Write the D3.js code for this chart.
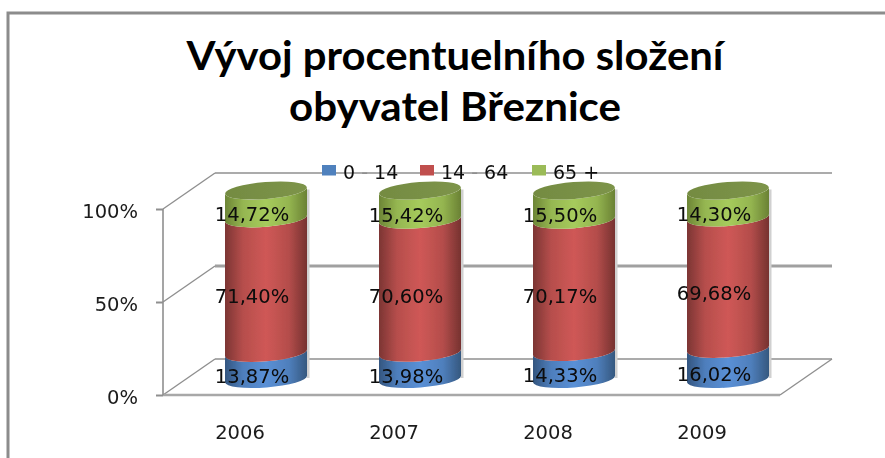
<!DOCTYPE html>
<html><head><meta charset="utf-8">
<script src="https://cdn.jsdelivr.net/npm/d3@7"></script>
<style>html,body{margin:0;padding:0;background:#fff}svg{display:block}text{font-family:"DejaVu Sans",sans-serif}</style>
</head><body><svg id="c" width="885" height="458"></svg>
<script>
const years=["2006","2007","2008","2009"];
const seriesNames=["0 - 14","14 - 64","65 +"];
const young=[13.87,13.98,14.33,16.02];
const middle=[71.40,70.60,70.17,69.68];
const old=[14.72,15.42,15.50,14.30];
const axisTicks=[0,50,100];
const titleLines=["Vývoj procentuelního složení","obyvatel Březnice"];
const seriesColors=["#4F81BD","#C0504D","#9BBB59"];
const gradStops=[["#33557f","#5a90d6","#35587f"],["#7c3533","#cf5856","#763230"],["#6d8536","#a6cb5c","#6a8134"]];

const svg=d3.select("#c");
const defs=svg.append("defs");
defs.append("filter").attr("id","soft").append("feGaussianBlur").attr("stdDeviation",0.45);
gradStops.forEach((g,i)=>{
  const lg=defs.append("linearGradient").attr("id","g"+i);
  lg.append("stop").attr("offset","0%").attr("stop-color",g[0]);
  lg.append("stop").attr("offset","22%").attr("stop-color",d3.interpolateRgb(g[0],g[1])(.7));
  lg.append("stop").attr("offset","50%").attr("stop-color",g[1]);
  lg.append("stop").attr("offset","78%").attr("stop-color",d3.interpolateRgb(g[2],g[1])(.7));
  lg.append("stop").attr("offset","100%").attr("stop-color",g[2]);
});
const topG=defs.append("linearGradient").attr("id","gt");
topG.append("stop").attr("offset","0%").attr("stop-color","#748b42");
topG.append("stop").attr("offset","100%").attr("stop-color","#7d9449");

// frame
const gray="#8f8f8f";
svg.append("path").attr("d","M8,458V13H885").attr("fill","none").attr("stroke","#8c8c8c").attr("stroke-width",3);

const root=svg.append("g").attr("filter","url(#soft)");
const depthX=52, depthY=-36;
const yWall=d3.scaleLinear().domain([0,100]).range([395,209]);
const xWall=d3.scaleLinear().domain([0,1]).range([163,780]);
const yCyl=d3.scaleLinear().domain([0,100]).range([379,190.5]);
const xBand=d3.scaleBand().domain(years).range([189,805]);
const rx=41, ry=8.5, tilt=-4.6, tan=Math.tan(tilt*Math.PI/180);

// walls
axisTicks.forEach(t=>{
  const y=yWall(t);
  root.append("line").attr("x1",xWall(0)+depthX).attr("x2",xWall(1)+depthX).attr("y1",y+depthY).attr("y2",y+depthY)
    .attr("stroke",t===50?"#a0a0a0":gray).attr("stroke-width",t===50?3:1.4);
  root.append("line").attr("x1",xWall(0)).attr("x2",xWall(0)+depthX).attr("y1",y).attr("y2",y+depthY)
    .attr("stroke",gray).attr("stroke-width",1.4);
});
root.append("line").attr("x1",xWall(0)).attr("x2",xWall(1)).attr("y1",yWall(0)).attr("y2",yWall(0)).attr("stroke","#a8a8a8").attr("stroke-width",2.5);
root.append("line").attr("x1",xWall(1)).attr("x2",xWall(1)+depthX).attr("y1",yWall(0)).attr("y2",yWall(0)+depthY).attr("stroke",gray).attr("stroke-width",1.4);

// y axis
const ay=root.append("g").attr("transform",`translate(${xWall(0)},0)`)
  .call(d3.axisLeft(yWall).tickValues(axisTicks).tickFormat(d=>d+"%").tickSize(7).tickPadding(18));
ay.select(".domain").attr("stroke",gray).attr("stroke-width",1.6).attr("d",`M0,${yWall(100)}V${yWall(0)}`);
ay.selectAll(".tick line").attr("stroke",gray).attr("stroke-width",2);
ay.selectAll(".tick text").attr("fill","#1a1a1a").style("font-size","19.5px").attr("dy","8.5").attr("font-family",null);

// x axis
const ax=root.append("g").attr("transform",`translate(-26,${yWall(0)})`)
  .call(d3.axisBottom(xBand).tickSize(0).tickPadding(30));
ax.select(".domain").remove();
ax.selectAll(".tick text").attr("fill","#1a1a1a").style("font-size","19.5px").attr("dy",".72em").attr("font-family",null);

// stacked cylinders
const rows=years.map((y,i)=>({year:y,a:young[i],b:middle[i],c:old[i]}));
const stacked=d3.stack().keys(["a","b","c"])(rows);
const cx=d=>xBand(d.data.year)+xBand.bandwidth()/2;
function segPath(d){
  const c=cx(d), y0=yCyl(d[0]), y1=yCyl(d[1]), dy=rx*tan;
  return `M${c-rx},${y0-dy}A${rx},${ry} ${tilt} 0 0 ${c+rx},${y0+dy}L${c+rx},${y1+dy}A${rx},${ry} ${tilt} 0 1 ${c-rx},${y1-dy}Z`;
}
const lastTop=stacked[2];
// soft shadow on the right of each cylinder
root.selectAll("rect.sh").data(lastTop).join("rect").attr("class","sh")
  .attr("x",d=>cx(d)+rx).attr("y",d=>yCyl(d[1])-1).attr("width",2.5)
  .attr("height",d=>yCyl(0)-yCyl(d[1])).attr("fill","#d0d0d0");
stacked.forEach((s,i)=>{
  root.append("g").selectAll("path").data(s).join("path").attr("d",segPath).attr("fill",`url(#g${i})`);
});
root.append("g").selectAll("ellipse").data(lastTop).join("ellipse")
  .attr("cx",0).attr("cy",0).attr("rx",rx).attr("ry",ry).attr("fill","url(#gt)")
  .attr("transform",d=>`translate(${cx(d)},${yCyl(d[1])}) rotate(${tilt})`);

// data labels
const fmt=v=>v.toFixed(2).replace(".",",")+"%";
stacked.forEach(s=>{
  root.append("g").selectAll("text").data(s).join("text")
    .attr("x",d=>cx(d)-14).attr("y",d=>yCyl((d[0]+d[1])/2)+17)
    .attr("text-anchor","middle").attr("fill","#0a0a0a").style("font-size","19.5px")
    .text(d=>fmt(d.data[s.key]));
});

// legend: the dash sits on the top gridline and reads in its grey
const legendX=d3.scaleOrdinal().domain(seriesNames).range([322,420,532]);
const leg=root.append("g").selectAll("g").data(seriesNames).join("g").attr("transform",d=>`translate(${legendX(d)},165)`);
leg.append("rect").attr("width",14).attr("height",10.5).attr("fill",(d,i)=>seriesColors[i]);
const legText=leg.append("text").attr("x",21).attr("y",14).attr("fill","#111").style("font-size","19px").attr("xml:space","preserve");
legText.each(function(d){
  const t=d3.select(this);
  d.split(/(-)/).forEach(p=>{ if(p) t.append("tspan").attr("fill",p==="-"?gray:null).text(p); });
});

// title
const titleWidths=[537,332];
svg.append("g").selectAll("text").data(titleLines).join("text")
  .attr("x",455).attr("y",(d,i)=>70+i*51).attr("text-anchor","middle").attr("fill","#000")
  .attr("textLength",(d,i)=>titleWidths[i]).attr("lengthAdjust","spacingAndGlyphs")
  .style("font-family","Lato,sans-serif").style("font-weight","700").style("font-size","41px").text(d=>d);
</script></body></html>
